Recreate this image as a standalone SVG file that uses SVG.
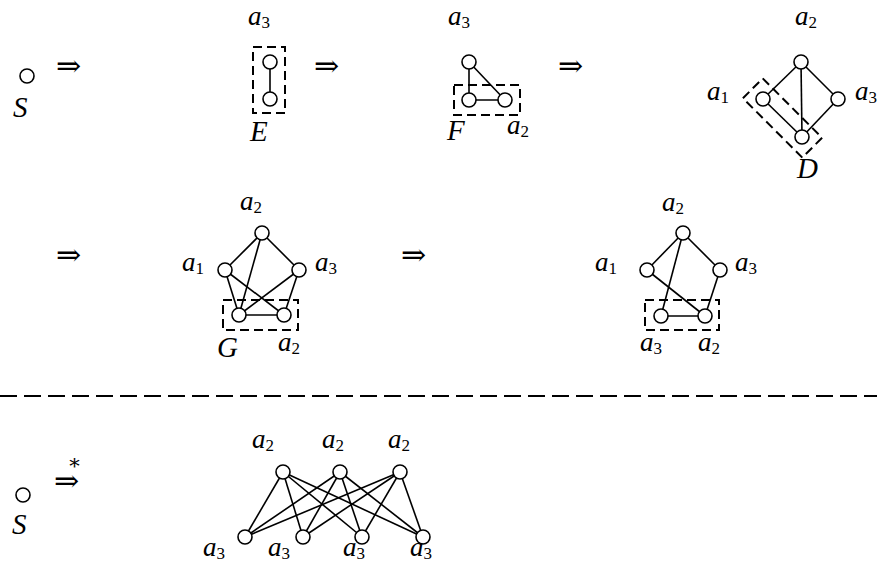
<svg xmlns="http://www.w3.org/2000/svg" width="877" height="567" viewBox="0 0 877 567">
<style>
.n{fill:#fff;stroke:#000;stroke-width:1.6}
.e line{stroke:#000;stroke-width:1.6}
.box{fill:none;stroke:#000;stroke-width:2;stroke-dasharray:9 5}
.t{font-family:"Liberation Serif","DejaVu Serif",serif;font-style:italic;font-size:27px;fill:#000}
.T{font-family:"Liberation Serif","DejaVu Serif",serif;font-style:italic;font-size:29px;fill:#000}
.s{font-style:normal;font-size:17px}
.ar{font-family:"DejaVu Serif","DejaVu Sans",serif;font-size:30px;fill:#000}
</style>
<rect width="877" height="567" fill="#fff"/>
<g id="connectors" class="e">
<line x1="270" y1="62" x2="270" y2="99"/>
<line x1="469" y1="62" x2="469" y2="100"/>
<line x1="469" y1="62" x2="505" y2="100"/>
<line x1="469" y1="100" x2="505" y2="100"/>
<line x1="801" y1="62" x2="763" y2="99"/>
<line x1="801" y1="62" x2="838" y2="99"/>
<line x1="801" y1="62" x2="802" y2="137"/>
<line x1="763" y1="99" x2="802" y2="137"/>
<line x1="838" y1="99" x2="802" y2="137"/>
<line x1="262" y1="233" x2="225" y2="270"/>
<line x1="262" y1="233" x2="299" y2="270"/>
<line x1="262" y1="233" x2="239" y2="315"/>
<line x1="225" y1="270" x2="239" y2="315"/>
<line x1="225" y1="270" x2="284" y2="315"/>
<line x1="299" y1="270" x2="239" y2="315"/>
<line x1="299" y1="270" x2="284" y2="315"/>
<line x1="239" y1="315" x2="284" y2="315"/>
<line x1="683" y1="233" x2="647" y2="270"/>
<line x1="683" y1="233" x2="720" y2="270"/>
<line x1="683" y1="233" x2="661" y2="316"/>
<line x1="647" y1="270" x2="705" y2="316"/>
<line x1="720" y1="270" x2="705" y2="316"/>
<line x1="661" y1="316" x2="705" y2="316"/>
<line x1="283" y1="472" x2="245" y2="537"/>
<line x1="283" y1="472" x2="303" y2="537"/>
<line x1="283" y1="472" x2="362" y2="537"/>
<line x1="283" y1="472" x2="423" y2="537"/>
<line x1="340" y1="472" x2="245" y2="537"/>
<line x1="340" y1="472" x2="303" y2="537"/>
<line x1="340" y1="472" x2="362" y2="537"/>
<line x1="340" y1="472" x2="423" y2="537"/>
<line x1="400" y1="472" x2="245" y2="537"/>
<line x1="400" y1="472" x2="303" y2="537"/>
<line x1="400" y1="472" x2="362" y2="537"/>
<line x1="400" y1="472" x2="423" y2="537"/>
</g>
<g id="stage0">
<circle class="n" cx="27" cy="76" r="7"/>
<text class="T" x="13" y="117">S</text>
<text class="ar" x="56" y="76">⇒</text>
</g>
<g id="stage1">
<rect class="box" x="253" y="47" width="32" height="66"/>
<circle class="n" cx="270" cy="62" r="7"/>
<circle class="n" cx="270" cy="99" r="7"/>
<text class="t" x="248" y="25">a<tspan class="s" dy="3">3</tspan></text>
<text class="T" x="250" y="141">E</text>
<text class="ar" x="314" y="76">⇒</text>
</g>
<g id="stage2">
<rect class="box" x="454" y="85" width="66" height="30"/>
<circle class="n" cx="469" cy="62" r="7"/>
<circle class="n" cx="469" cy="100" r="7"/>
<circle class="n" cx="505" cy="100" r="7"/>
<text class="t" x="448" y="25">a<tspan class="s" dy="3">3</tspan></text>
<text class="T" x="447" y="140">F</text>
<text class="t" x="507" y="134">a<tspan class="s" dy="3">2</tspan></text>
<text class="ar" x="558" y="76">⇒</text>
</g>
<g id="stage3">
<rect class="box" x="-42" y="-14" width="84" height="28" transform="translate(782.5 118) rotate(45)"/>
<circle class="n" cx="801" cy="62" r="7"/>
<circle class="n" cx="763" cy="99" r="7"/>
<circle class="n" cx="838" cy="99" r="7"/>
<circle class="n" cx="802" cy="137" r="7"/>
<text class="t" x="795" y="25">a<tspan class="s" dy="3">2</tspan></text>
<text class="t" x="707" y="100">a<tspan class="s" dy="3">1</tspan></text>
<text class="t" x="855" y="100">a<tspan class="s" dy="3">3</tspan></text>
<text class="T" x="797" y="178">D</text>
</g>
<g id="stage4">
<text class="ar" x="56" y="265">⇒</text>
<rect class="box" x="223" y="300" width="75" height="30"/>
<circle class="n" cx="262" cy="233" r="7"/>
<circle class="n" cx="225" cy="270" r="7"/>
<circle class="n" cx="299" cy="270" r="7"/>
<circle class="n" cx="239" cy="315" r="7"/>
<circle class="n" cx="284" cy="315" r="7"/>
<text class="t" x="240" y="210">a<tspan class="s" dy="3">2</tspan></text>
<text class="t" x="182" y="271">a<tspan class="s" dy="3">1</tspan></text>
<text class="t" x="315" y="271">a<tspan class="s" dy="3">3</tspan></text>
<text class="T" x="217" y="357">G</text>
<text class="t" x="278" y="351">a<tspan class="s" dy="3">2</tspan></text>
<text class="ar" x="401" y="265">⇒</text>
</g>
<g id="stage5">
<rect class="box" x="645" y="300" width="74" height="30"/>
<circle class="n" cx="683" cy="233" r="7"/>
<circle class="n" cx="647" cy="270" r="7"/>
<circle class="n" cx="720" cy="270" r="7"/>
<circle class="n" cx="661" cy="316" r="7"/>
<circle class="n" cx="705" cy="316" r="7"/>
<text class="t" x="662" y="211">a<tspan class="s" dy="3">2</tspan></text>
<text class="t" x="595" y="271">a<tspan class="s" dy="3">1</tspan></text>
<text class="t" x="735" y="271">a<tspan class="s" dy="3">3</tspan></text>
<text class="t" x="640" y="351">a<tspan class="s" dy="3">3</tspan></text>
<text class="t" x="698" y="351">a<tspan class="s" dy="3">2</tspan></text>
</g>
<line id="separator" x1="0" y1="396" x2="877" y2="396" stroke="#000" stroke-width="2" stroke-dasharray="17 7"/>
<g id="bottom-start">
<circle class="n" cx="23" cy="495" r="7"/>
<text class="T" x="12" y="534">S</text>
<text class="ar" x="54" y="491">⇒<tspan dx="-10" dy="-18" style="font-size:21px">*</tspan></text>
</g>
<g id="bipartite">
<circle class="n" cx="283" cy="472" r="7"/>
<circle class="n" cx="340" cy="472" r="7"/>
<circle class="n" cx="400" cy="472" r="7"/>
<circle class="n" cx="245" cy="537" r="7"/>
<circle class="n" cx="303" cy="537" r="7"/>
<circle class="n" cx="362" cy="537" r="7"/>
<circle class="n" cx="423" cy="537" r="7"/>
<text class="t" x="252" y="448">a<tspan class="s" dy="3">2</tspan></text>
<text class="t" x="322" y="448">a<tspan class="s" dy="3">2</tspan></text>
<text class="t" x="388" y="448">a<tspan class="s" dy="3">2</tspan></text>
<text class="t" x="203" y="556">a<tspan class="s" dy="3">3</tspan></text>
<text class="t" x="268" y="556">a<tspan class="s" dy="3">3</tspan></text>
<text class="t" x="343" y="556">a<tspan class="s" dy="3">3</tspan></text>
<text class="t" x="410" y="556">a<tspan class="s" dy="3">3</tspan></text>
</g>
</svg>
